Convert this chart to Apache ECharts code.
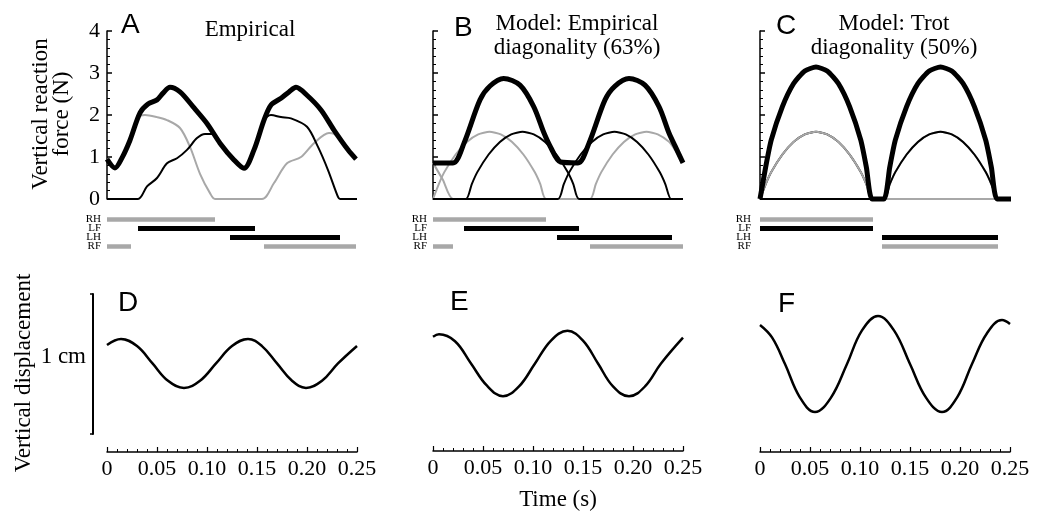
<!doctype html>
<html>
<head>
<meta charset="utf-8">
<title>Vertical reaction force and displacement</title>
<script src="https://cdn.jsdelivr.net/npm/echarts@6/dist/echarts.min.js"></script>
<style>
  html, body { margin: 0; padding: 0; background: #fff; }
  #main { width: 1042px; height: 512px; }
</style>
</head>
<body>
<div id="main"></div>
<script>
// ---- data (time in s, force in N, displacement in cm on a 1 cm bar) ----
var legs = ['RH', 'LF', 'LH', 'RF'];

// A: empirical
var aTotal = [[0,0.95],[0.008,0.74],[0.015,0.98],[0.023,1.4],[0.033,2.05],[0.041,2.26],[0.05,2.36],[0.056,2.52],[0.063,2.66],[0.073,2.55],[0.086,2.2],[0.1,1.8],[0.113,1.33],[0.127,0.93],[0.137,0.73],[0.147,1.17],[0.157,1.88],[0.164,2.24],[0.174,2.4],[0.182,2.55],[0.189,2.66],[0.2,2.47],[0.214,2.12],[0.227,1.64],[0.241,1.17],[0.249,0.95]];
var aRight = [[0,0.95],[0.008,0.74],[0.015,0.98],[0.023,1.4],[0.033,1.98],[0.038,2.0],[0.05,1.95],[0.06,1.88],[0.073,1.69],[0.083,1.24],[0.093,0.6],[0.103,0.14],[0.108,0],[0.155,0],[0.167,0.38],[0.18,0.85],[0.194,1.0],[0.207,1.33],[0.222,1.57],[0.227,1.55],[0.233,1.42],[0.241,1.17],[0.249,0.95]];
var aLeft = [[0,0],[0.031,0],[0.04,0.3],[0.05,0.5],[0.06,0.85],[0.07,0.97],[0.08,1.17],[0.09,1.45],[0.098,1.55],[0.107,1.55],[0.113,1.33],[0.127,0.93],[0.137,0.73],[0.147,1.17],[0.157,1.88],[0.164,2.0],[0.174,1.95],[0.184,1.92],[0.2,1.72],[0.211,1.24],[0.221,0.69],[0.231,0.05],[0.233,0],[0.25,0]];

// B: model, empirical diagonality
var bTotal = [[0,0.86],[0.02,0.86],[0.031,1.33],[0.047,2.36],[0.057,2.69],[0.0706,2.87],[0.087,2.71],[0.1007,2.2],[0.111,1.57],[0.1175,1.24],[0.1275,0.88],[0.145,0.86],[0.156,1.33],[0.172,2.36],[0.182,2.69],[0.196,2.87],[0.212,2.71],[0.226,2.2],[0.236,1.57],[0.2425,1.24],[0.25,0.86]];
var bRH = [[0,0],[0.0057,0.35],[0.0113,0.64],[0.0226,1.06],[0.0339,1.36],[0.0452,1.54],[0.0565,1.6],[0.0678,1.54],[0.0791,1.36],[0.0904,1.06],[0.1017,0.64],[0.1074,0.35],[0.113,0],[0.25,0]];
var bRF = [[0,0.86],[0.01,0.45],[0.02,0],[0.157,0],[0.1627,0.35],[0.1683,0.64],[0.1796,1.06],[0.1909,1.36],[0.2022,1.54],[0.2135,1.6],[0.2248,1.54],[0.2361,1.36],[0.2425,1.15],[0.25,0.86]];
var bLF = [[0,0],[0.033,0],[0.0387,0.35],[0.0443,0.64],[0.0556,1.06],[0.0669,1.36],[0.0782,1.54],[0.0895,1.6],[0.1008,1.54],[0.1121,1.36],[0.1234,1.06],[0.1347,0.64],[0.1404,0.35],[0.146,0],[0.25,0]];
var bLH = [[0,0],[0.125,0],[0.1307,0.35],[0.1363,0.64],[0.1476,1.06],[0.1589,1.36],[0.1702,1.54],[0.1815,1.6],[0.1928,1.54],[0.2041,1.36],[0.2154,1.06],[0.2267,0.64],[0.2324,0.35],[0.238,0],[0.25,0]];

// C: model, trot diagonality
var cTotal = [[0,0],[0.0056,0.75],[0.0112,1.4],[0.0224,2.2],[0.0336,2.75],[0.0448,3.05],[0.056,3.14],[0.0672,3.05],[0.0784,2.75],[0.0896,2.2],[0.1008,1.4],[0.1064,0.75],[0.112,0],[0.124,0],[0.1297,0.75],[0.1353,1.4],[0.1466,2.2],[0.1579,2.75],[0.1692,3.05],[0.1805,3.14],[0.1918,3.05],[0.2031,2.75],[0.2144,2.2],[0.2257,1.4],[0.2314,0.75],[0.237,0],[0.251,0]];
var cRH = [[0,0],[0.0056,0.35],[0.0112,0.64],[0.0224,1.06],[0.0336,1.36],[0.0448,1.54],[0.056,1.6],[0.0672,1.54],[0.0784,1.36],[0.0896,1.06],[0.1008,0.64],[0.1064,0.35],[0.112,0],[0.25,0]];
var cLF = [[0,0],[0.0056,0.35],[0.0112,0.64],[0.0224,1.06],[0.0336,1.36],[0.0448,1.54],[0.056,1.6],[0.0672,1.54],[0.0784,1.36],[0.0896,1.06],[0.1008,0.64],[0.1064,0.35],[0.112,0]];
var cLH = [[0,0],[0.124,0],[0.1297,0.35],[0.1353,0.64],[0.1466,1.06],[0.1579,1.36],[0.1692,1.54],[0.1805,1.6],[0.1918,1.54],[0.2031,1.36],[0.2144,1.06],[0.2257,0.64],[0.2314,0.35],[0.237,0]];
var cRF = [[0.124,0],[0.1297,0.35],[0.1353,0.64],[0.1466,1.06],[0.1579,1.36],[0.1692,1.54],[0.1805,1.6],[0.1918,1.54],[0.2031,1.36],[0.2144,1.06],[0.2257,0.64],[0.2314,0.35],[0.237,0]];

// stance phases [leg, start, end]
var aStance = [['RH',0,0.108],['LF',0.031,0.148],['LH',0.123,0.233],['RF',0,0.024],['RF',0.157,0.249]];
var bStance = [['RH',0,0.113],['LF',0.031,0.146],['LH',0.124,0.239],['RF',0,0.02],['RF',0.157,0.25]];
var cStance = [['RH',0,0.113],['LF',0,0.113],['LH',0.122,0.238],['RF',0.122,0.238]];

// D-F: vertical displacement
var dDisp = [[0,0.636],[0.014,0.679],[0.03,0.628],[0.0455,0.504],[0.061,0.38],[0.077,0.329],[0.093,0.38],[0.109,0.504],[0.125,0.628],[0.141,0.679],[0.155,0.628],[0.17,0.504],[0.185,0.38],[0.199,0.329],[0.215,0.38],[0.231,0.504],[0.25,0.629]];
var eDisp = [[0,0.693],[0.006,0.71],[0.022,0.66],[0.038,0.5],[0.054,0.34],[0.07,0.264],[0.086,0.335],[0.102,0.5],[0.118,0.665],[0.1345,0.736],[0.15,0.665],[0.165,0.5],[0.18,0.335],[0.196,0.264],[0.212,0.335],[0.228,0.5],[0.25,0.686]];
var fDisp = [[0,0.779],[0.012,0.69],[0.025,0.5],[0.04,0.26],[0.055,0.157],[0.071,0.26],[0.087,0.5],[0.102,0.74],[0.118,0.843],[0.134,0.74],[0.15,0.5],[0.166,0.26],[0.182,0.157],[0.197,0.26],[0.212,0.5],[0.227,0.72],[0.242,0.814],[0.25,0.786]];

// ---- styles ----
var SERIF = 'Liberation Serif';
var SANS = 'Liberation Sans';
var GRAY = '#a8a8a8';
var BLACK = '#000';
var legColor = { RH: GRAY, RF: GRAY, LF: BLACK, LH: BLACK };
var cols = [107, 433, 760];
var colW = 250;

var myChart = echarts.init(document.getElementById('main'));

var grids = [], xAxes = [], yAxes = [], series = [];

cols.forEach(function (left) {
    grids.push({ left: left, top: 31, width: colW, height: 168 });
});
cols.forEach(function (left) {
    grids.push({ left: left, top: 215, width: colW, height: 36 });
});
cols.forEach(function (left) {
    grids.push({ left: left, top: 294, width: colW, height: 140 });
});

// top panels: force axes
for (var i = 0; i < 3; i++) {
    xAxes.push({ gridIndex: i, type: 'value', min: 0, max: 0.25, show: false });
    yAxes.push({
        gridIndex: i, type: 'value', min: 0, max: 4, interval: 1,
        axisLine: { show: true, onZero: false, lineStyle: { color: BLACK, width: 1.5 } },
        axisTick: { show: true, inside: true, length: 5, lineStyle: { color: BLACK, width: 1.5 } },
        minorTick: { show: true, splitNumber: 5, length: 3, lineStyle: { color: BLACK, width: 1 } },
        axisLabel: { show: i === 0, margin: 7, fontFamily: SERIF, fontSize: 22, color: BLACK },
        splitLine: { show: false }
    });
}
// gait bars
for (var i = 0; i < 3; i++) {
    xAxes.push({ gridIndex: 3 + i, type: 'value', min: 0, max: 0.25, show: false });
    yAxes.push({
        gridIndex: 3 + i, type: 'category', data: legs, inverse: true,
        axisLine: { show: false }, axisTick: { show: false },
        axisLabel: { interval: 0, margin: i === 2 ? 9 : 6, fontFamily: SERIF, fontSize: 11, color: BLACK }
    });
}
// bottom panels: displacement
for (var i = 0; i < 3; i++) {
    xAxes.push({
        gridIndex: 6 + i, type: 'value', min: 0, max: 0.25, interval: 0.05, offset: 18,
        axisLine: { show: true, onZero: false, lineStyle: { color: BLACK, width: 1.5 } },
        axisTick: { show: true, inside: true, length: 5, lineStyle: { color: BLACK, width: 1.2 } },
        minorTick: { show: true, splitNumber: 5, length: 3, lineStyle: { color: BLACK, width: 1 } },
        axisLabel: {
            margin: 6, fontFamily: SERIF, fontSize: 22, color: BLACK,
            formatter: function (v) { return v === 0 ? '0' : v.toFixed(2); }
        },
        splitLine: { show: false },
        name: i === 1 ? 'Time (s)' : '',
        nameLocation: 'middle', nameGap: 37,
        nameTextStyle: { fontFamily: SERIF, fontSize: 23, color: BLACK }
    });
    yAxes.push({
        gridIndex: 6 + i, type: 'value', min: 0, max: 1, interval: 1,
        offset: 14,
        axisLine: { show: i === 0, onZero: false, lineStyle: { color: BLACK, width: 2 } },
        axisTick: { show: i === 0, length: 3, lineStyle: { color: BLACK, width: 1.5 } },
        axisLabel: { show: false },
        splitLine: { show: false }
    });
}

function line(idx, data, color, width, smooth) {
    return {
        type: 'line', xAxisIndex: idx, yAxisIndex: idx, data: data,
        showSymbol: false, smooth: smooth, clip: false, silent: true,
        lineStyle: { color: color, width: width }
    };
}

// A
series.push(line(0, aRight, GRAY, 2, 0.3));
series.push(line(0, aLeft, BLACK, 2, 0.3));
series.push(line(0, aTotal, BLACK, 5, 0.3));
// B
series.push(line(1, bRH, GRAY, 2, 0.2));
series.push(line(1, bRF, GRAY, 2, 0.2));
series.push(line(1, bLF, BLACK, 2, 0.2));
series.push(line(1, bLH, BLACK, 2, 0.2));
series.push(line(1, bTotal, BLACK, 5, 0.3));
// C
series.push(line(2, cLF, BLACK, 2, 0.2));
series.push(line(2, cRF, GRAY, 2, 0.2));
series.push(line(2, cRH, GRAY, 2, 0.2));
series.push(line(2, cLH, BLACK, 2, 0.2));
series.push(line(2, cTotal, BLACK, 5, 0.2));

// gait diagrams
function stanceBar(params, api) {
    var leg = legs[api.value(0)];
    var p0 = api.coord([api.value(1), api.value(0)]);
    var p1 = api.coord([api.value(2), api.value(0)]);
    var h = legColor[leg] === BLACK ? 5 : 4.5;
    return {
        type: 'rect',
        shape: { x: p0[0], y: p0[1] - h / 2, width: p1[0] - p0[0], height: h },
        style: { fill: legColor[leg] }
    };
}
[aStance, bStance, cStance].forEach(function (d, i) {
    series.push({
        type: 'custom', xAxisIndex: 3 + i, yAxisIndex: 3 + i,
        renderItem: stanceBar, data: d, encode: { x: [1, 2], y: 0 }, silent: true
    });
});

// displacement
series.push(line(6, dDisp, BLACK, 2.5, 0.4));
series.push(line(7, eDisp, BLACK, 2.5, 0.4));
series.push(line(8, fDisp, BLACK, 2.5, 0.4));

var letterStyle = { fontFamily: SANS, fontSize: 28, fontWeight: 'normal', color: BLACK };
var headStyle = { fontFamily: SERIF, fontSize: 23, fontWeight: 'normal', color: BLACK, lineHeight: 24 };

option = {
    backgroundColor: '#fff',
    animation: false,
    title: [
        { text: 'A', left: 116, top: 6, textStyle: letterStyle },
        { text: 'B', left: 449, top: 9, textStyle: letterStyle },
        { text: 'C', left: 771, top: 7, textStyle: letterStyle },
        { text: 'D', left: 113, top: 284, textStyle: letterStyle },
        { text: 'E', left: 445, top: 283, textStyle: letterStyle },
        { text: 'F', left: 773, top: 285, textStyle: letterStyle },
        { text: 'Empirical', left: 245, top: 13, textAlign: 'center', textStyle: headStyle },
        { text: 'Model: Empirical\ndiagonality (63%)', left: 572, top: 7, textAlign: 'center', textStyle: headStyle },
        { text: 'Model: Trot\ndiagonality (50%)', left: 889, top: 7, textAlign: 'center', textStyle: headStyle }
    ],
    graphic: [
        {
            type: 'text', x: 51, y: 114, rotation: Math.PI / 2,
            style: { text: 'Vertical reaction\nforce (N)', font: '23px "Liberation Serif"', fill: BLACK,
                     textAlign: 'center', textVerticalAlign: 'middle', lineHeight: 21 }
        },
        {
            type: 'text', x: 24, y: 373, rotation: Math.PI / 2,
            style: { text: 'Vertical displacement', font: '23px "Liberation Serif"', fill: BLACK,
                     textAlign: 'center', textVerticalAlign: 'middle' }
        },
        {
            type: 'text', x: 86, y: 357,
            style: { text: '1 cm', font: '23px "Liberation Serif"', fill: BLACK,
                     textAlign: 'right', textVerticalAlign: 'middle' }
        }
    ],
    grid: grids,
    xAxis: xAxes,
    yAxis: yAxes,
    series: series
};

myChart.setOption(option);
</script>
</body>
</html>
